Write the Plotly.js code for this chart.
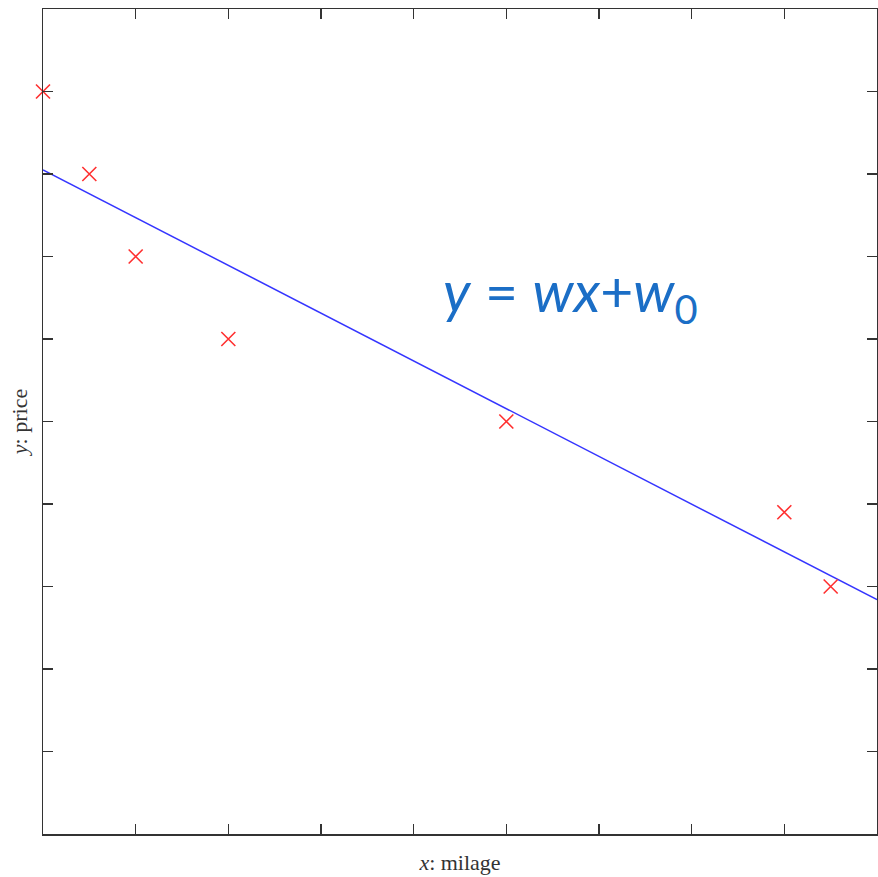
<!DOCTYPE html>
<html>
<head>
<meta charset="utf-8">
<script src="https://cdn.plot.ly/plotly-3.0.1.min.js"></script>
<style>html,body{margin:0;padding:0;background:#fff;}#chart{width:878px;height:877px;}</style>
</head>
<body>
<div id="chart"></div>
<script>
// Data (axis units: x 0..9, y 0..10)
const milage = [0, 0.5, 1, 2, 5, 8, 8.5];
const price = [9, 8, 7, 6, 5, 3.9, 3];
const fitX = [0, 9];
const fitY = [8.05, 2.84];
const xTicks = [1, 2, 3, 4, 5, 6, 7, 8];
const yTicks = [1, 2, 3, 4, 5, 6, 7, 8, 9];

const traces = [
  {
    x: fitX, y: fitY, mode: 'lines', type: 'scatter',
    line: {color: '#3535ff', width: 1.5},
    hoverinfo: 'skip', showlegend: false
  },
  {
    x: milage, y: price, mode: 'markers', type: 'scatter',
    marker: {symbol: 'x-thin-open', size: 14, color: '#ff3030', line: {color: '#ff3030', width: 1.6}},
    cliponaxis: false, showlegend: false
  }
];

const axisCommon = {
  showgrid: false, zeroline: false, showline: true, linecolor: '#333333', linewidth: 1.5,
  mirror: 'ticks', ticks: 'inside', ticklen: 10, tickwidth: 1.5, tickcolor: '#333333',
  showticklabels: false, tickmode: 'array'
};

const layout = {
  width: 878, height: 877,
  margin: {l: 43, r: 1, t: 9, b: 43},
  paper_bgcolor: '#ffffff', plot_bgcolor: '#ffffff',
  xaxis: Object.assign({}, axisCommon, {
    range: [0, 9], tickvals: xTicks,
    title: {text: '<i>x</i>: milage', font: {family: 'Liberation Serif', size: 22, color: '#333333'}, standoff: 20}
  }),
  yaxis: Object.assign({}, axisCommon, {
    range: [0, 10], tickvals: yTicks,
    title: {text: '<i>y</i>: price', font: {family: 'Liberation Serif', size: 22, color: '#333333'}, standoff: 8}
  }),
  annotations: [{
    x: 0.633, y: 0.654, xref: 'paper', yref: 'paper', xanchor: 'center', yanchor: 'middle',
    showarrow: false,
    text: '<i>y</i> = <i>wx</i>+<i>w</i><sub>0</sub>',
    font: {family: 'Lato, Open Sans, sans-serif', size: 57, color: '#1b6ec6'}
  }]
};

Plotly.newPlot('chart', traces, layout, {displayModeBar: false, staticPlot: true});
</script>
</body>
</html>
